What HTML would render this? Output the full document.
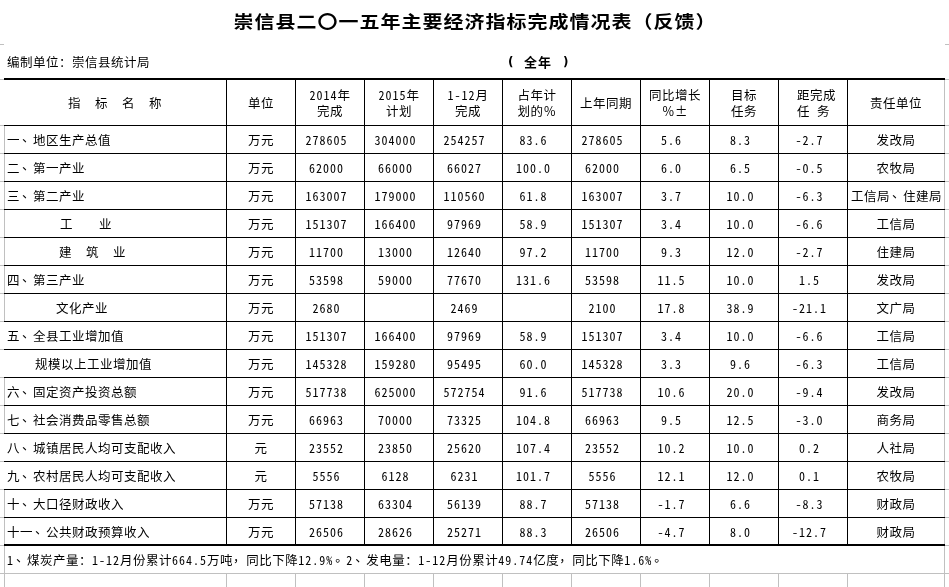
<!DOCTYPE html>
<html lang="zh-CN"><head><meta charset="utf-8"><title>崇信县二〇一五年主要经济指标完成情况表（反馈）</title>
<style>
*{margin:0;padding:0;box-sizing:border-box}
html,body{width:949px;height:587px;overflow:hidden;background:#fff}
body{position:relative;font-family:"Noto Sans CJK SC","Noto Sans Mono CJK SC",sans-serif;font-size:12.5px;letter-spacing:0.5px;color:#000}
i{position:absolute;display:block}
.h{font-size:12px;font-feature-settings:"hwid" 1;letter-spacing:1px;white-space:pre}
.p1{position:relative;left:2px;top:-3px}
.p2{position:relative;top:-3px}
.p3{position:relative;left:2px;top:-3px}
.t{position:absolute;display:flex;flex-direction:column;justify-content:center;white-space:nowrap}
.t.d{line-height:13px}
.t.hd1{line-height:13px}
.t.hd2{line-height:16px}
.title{position:absolute;left:0;top:9px;width:949px;text-align:center;font-family:"Noto Sans CJK SC",sans-serif;font-weight:bold;font-size:20px;letter-spacing:1px;text-indent:1px;transform:scaleY(0.88);transform-origin:50% 50%;line-height:24px;white-space:nowrap}
.sub{position:absolute;line-height:13px;white-space:nowrap}
.sub.b{font-weight:bold;font-size:13px}
</style></head>
<body>
<i style="left:0px;top:44px;width:4px;height:1px;background:#c0c0c0"></i>
<i style="left:945px;top:44px;width:4px;height:1px;background:#c0c0c0"></i>
<i style="left:0px;top:79px;width:4px;height:1px;background:#c0c0c0"></i>
<i style="left:945px;top:79px;width:4px;height:1px;background:#c0c0c0"></i>
<i style="left:0px;top:125px;width:4px;height:1px;background:#c0c0c0"></i>
<i style="left:945px;top:125px;width:4px;height:1px;background:#c0c0c0"></i>
<i style="left:0px;top:153px;width:4px;height:1px;background:#c0c0c0"></i>
<i style="left:945px;top:153px;width:4px;height:1px;background:#c0c0c0"></i>
<i style="left:0px;top:181px;width:4px;height:1px;background:#c0c0c0"></i>
<i style="left:945px;top:181px;width:4px;height:1px;background:#c0c0c0"></i>
<i style="left:0px;top:209px;width:4px;height:1px;background:#c0c0c0"></i>
<i style="left:945px;top:209px;width:4px;height:1px;background:#c0c0c0"></i>
<i style="left:0px;top:237px;width:4px;height:1px;background:#c0c0c0"></i>
<i style="left:945px;top:237px;width:4px;height:1px;background:#c0c0c0"></i>
<i style="left:0px;top:265px;width:4px;height:1px;background:#c0c0c0"></i>
<i style="left:945px;top:265px;width:4px;height:1px;background:#c0c0c0"></i>
<i style="left:0px;top:293px;width:4px;height:1px;background:#c0c0c0"></i>
<i style="left:945px;top:293px;width:4px;height:1px;background:#c0c0c0"></i>
<i style="left:0px;top:321px;width:4px;height:1px;background:#c0c0c0"></i>
<i style="left:945px;top:321px;width:4px;height:1px;background:#c0c0c0"></i>
<i style="left:0px;top:349px;width:4px;height:1px;background:#c0c0c0"></i>
<i style="left:945px;top:349px;width:4px;height:1px;background:#c0c0c0"></i>
<i style="left:0px;top:377px;width:4px;height:1px;background:#c0c0c0"></i>
<i style="left:945px;top:377px;width:4px;height:1px;background:#c0c0c0"></i>
<i style="left:0px;top:405px;width:4px;height:1px;background:#c0c0c0"></i>
<i style="left:945px;top:405px;width:4px;height:1px;background:#c0c0c0"></i>
<i style="left:0px;top:433px;width:4px;height:1px;background:#c0c0c0"></i>
<i style="left:945px;top:433px;width:4px;height:1px;background:#c0c0c0"></i>
<i style="left:0px;top:461px;width:4px;height:1px;background:#c0c0c0"></i>
<i style="left:945px;top:461px;width:4px;height:1px;background:#c0c0c0"></i>
<i style="left:0px;top:489px;width:4px;height:1px;background:#c0c0c0"></i>
<i style="left:945px;top:489px;width:4px;height:1px;background:#c0c0c0"></i>
<i style="left:0px;top:517px;width:4px;height:1px;background:#c0c0c0"></i>
<i style="left:945px;top:517px;width:4px;height:1px;background:#c0c0c0"></i>
<i style="left:0px;top:545px;width:4px;height:1px;background:#c0c0c0"></i>
<i style="left:945px;top:545px;width:4px;height:1px;background:#c0c0c0"></i>
<i style="left:0px;top:573px;width:4px;height:1px;background:#c0c0c0"></i>
<i style="left:945px;top:573px;width:4px;height:1px;background:#c0c0c0"></i>
<i style="left:4px;top:126px;width:1px;height:195px;background:#c0c0c0"></i>
<i style="left:4px;top:378px;width:1px;height:55px;background:#c0c0c0"></i>
<i style="left:4px;top:490px;width:1px;height:97px;background:#c0c0c0"></i>
<i style="left:944px;top:80px;width:1px;height:507px;background:#c0c0c0"></i>
<i style="left:4px;top:573px;width:941px;height:1px;background:#c0c0c0"></i>
<i style="left:226px;top:574px;width:1px;height:13px;background:#c0c0c0"></i>
<i style="left:295px;top:574px;width:1px;height:13px;background:#c0c0c0"></i>
<i style="left:364px;top:574px;width:1px;height:13px;background:#c0c0c0"></i>
<i style="left:433px;top:574px;width:1px;height:13px;background:#c0c0c0"></i>
<i style="left:502px;top:574px;width:1px;height:13px;background:#c0c0c0"></i>
<i style="left:571px;top:574px;width:1px;height:13px;background:#c0c0c0"></i>
<i style="left:640px;top:574px;width:1px;height:13px;background:#c0c0c0"></i>
<i style="left:709px;top:574px;width:1px;height:13px;background:#c0c0c0"></i>
<i style="left:778px;top:574px;width:1px;height:13px;background:#c0c0c0"></i>
<i style="left:847px;top:574px;width:1px;height:13px;background:#c0c0c0"></i>
<i style="left:4px;top:78px;width:941px;height:2px;background:#000"></i>
<i style="left:4px;top:125px;width:941px;height:1px;background:#000"></i>
<i style="left:4px;top:153px;width:941px;height:1px;background:#000"></i>
<i style="left:4px;top:181px;width:941px;height:1px;background:#000"></i>
<i style="left:4px;top:209px;width:941px;height:1px;background:#000"></i>
<i style="left:4px;top:237px;width:941px;height:1px;background:#000"></i>
<i style="left:4px;top:265px;width:941px;height:1px;background:#000"></i>
<i style="left:4px;top:293px;width:941px;height:1px;background:#000"></i>
<i style="left:4px;top:321px;width:941px;height:1px;background:#000"></i>
<i style="left:4px;top:349px;width:941px;height:1px;background:#000"></i>
<i style="left:4px;top:377px;width:941px;height:1px;background:#000"></i>
<i style="left:4px;top:405px;width:941px;height:1px;background:#000"></i>
<i style="left:4px;top:433px;width:941px;height:1px;background:#000"></i>
<i style="left:4px;top:461px;width:941px;height:1px;background:#000"></i>
<i style="left:4px;top:489px;width:941px;height:1px;background:#000"></i>
<i style="left:4px;top:517px;width:941px;height:1px;background:#000"></i>
<i style="left:4px;top:544px;width:941px;height:2px;background:#000"></i>
<i style="left:226px;top:80px;width:1px;height:464px;background:#000"></i>
<i style="left:295px;top:80px;width:1px;height:464px;background:#000"></i>
<i style="left:364px;top:80px;width:1px;height:464px;background:#000"></i>
<i style="left:433px;top:80px;width:1px;height:464px;background:#000"></i>
<i style="left:502px;top:80px;width:1px;height:464px;background:#000"></i>
<i style="left:571px;top:80px;width:1px;height:464px;background:#000"></i>
<i style="left:640px;top:80px;width:1px;height:464px;background:#000"></i>
<i style="left:709px;top:80px;width:1px;height:464px;background:#000"></i>
<i style="left:778px;top:80px;width:1px;height:464px;background:#000"></i>
<i style="left:847px;top:80px;width:1px;height:464px;background:#000"></i>
<div class="title">崇信县二〇一五年主要经济指标完成情况表（反馈）</div>
<div class="sub" style="left:7px;top:55px">编制单位：崇信县统计局</div>
<div class="sub b" style="left:508px;top:56px;font:bold 12px DejaVu Sans;line-height:13px">(</div><div class="sub b" style="left:524px;top:55px;letter-spacing:1px">全年</div><div class="sub b" style="left:563px;top:56px;font:bold 12px DejaVu Sans;line-height:13px">)</div>
<div class="t hd1" style="left:4px;top:80px;width:222px;height:45px;text-align:center;"><p>指<span class="h">&#32;&#32;</span>标<span class="h">&#32;&#32;</span>名<span class="h">&#32;&#32;</span>称</p></div>
<div class="t hd1" style="left:227px;top:80px;width:68px;height:45px;text-align:center;"><p>单位</p></div>
<div class="t hd2" style="left:296px;top:80px;width:68px;height:45px;text-align:center;"><p><div><span class="h">2014</span>年</div><div>完成</div></p></div>
<div class="t hd2" style="left:365px;top:80px;width:68px;height:45px;text-align:center;"><p><div><span class="h">2015</span>年</div><div>计划</div></p></div>
<div class="t hd2" style="left:434px;top:80px;width:68px;height:45px;text-align:center;"><p><div><span class="h">1-12</span>月</div><div>完成</div></p></div>
<div class="t hd2" style="left:503px;top:80px;width:68px;height:45px;text-align:center;"><p><div>占年计</div><div>划的％</div></p></div>
<div class="t hd1" style="left:572px;top:80px;width:68px;height:45px;text-align:center;"><p>上年同期</p></div>
<div class="t hd2" style="left:641px;top:80px;width:68px;height:45px;text-align:center;"><p><div>同比增长</div><div>％±</div></p></div>
<div class="t hd2" style="left:710px;top:80px;width:68px;height:45px;text-align:center;"><p><div>目标</div><div>任务</div></p></div>
<div class="t hd2" style="left:797px;top:80px;width:50px;height:45px;text-align:left;"><p><div>距完成</div><div>任<span class="h">&#32;</span>务</div></p></div>
<div class="t hd1" style="left:848px;top:80px;width:96px;height:45px;text-align:center;"><p>责任单位</p></div>
<div class="t d" style="left:7px;top:126px;width:215px;height:27px;text-align:left;"><p>一<span class="p1">、</span>地区生产总值</p></div>
<div class="t d" style="left:227px;top:126px;width:68px;height:27px;text-align:center;"><p>万元</p></div>
<div class="t d" style="left:296px;top:126px;width:61px;height:27px;text-align:center;"><p><span class="h">278605</span></p></div>
<div class="t d" style="left:365px;top:126px;width:61px;height:27px;text-align:center;"><p><span class="h">304000</span></p></div>
<div class="t d" style="left:434px;top:126px;width:61px;height:27px;text-align:center;"><p><span class="h">254257</span></p></div>
<div class="t d" style="left:503px;top:126px;width:61px;height:27px;text-align:center;"><p><span class="h">83.6</span></p></div>
<div class="t d" style="left:572px;top:126px;width:61px;height:27px;text-align:center;"><p><span class="h">278605</span></p></div>
<div class="t d" style="left:641px;top:126px;width:61px;height:27px;text-align:center;"><p><span class="h">5.6</span></p></div>
<div class="t d" style="left:710px;top:126px;width:61px;height:27px;text-align:center;"><p><span class="h">8.3</span></p></div>
<div class="t d" style="left:779px;top:126px;width:61px;height:27px;text-align:center;"><p><span class="h">-2.7</span></p></div>
<div class="t d" style="left:848px;top:126px;width:96px;height:27px;text-align:center;"><p>发改局</p></div>
<div class="t d" style="left:7px;top:154px;width:215px;height:27px;text-align:left;"><p>二<span class="p1">、</span>第一产业</p></div>
<div class="t d" style="left:227px;top:154px;width:68px;height:27px;text-align:center;"><p>万元</p></div>
<div class="t d" style="left:296px;top:154px;width:61px;height:27px;text-align:center;"><p><span class="h">62000</span></p></div>
<div class="t d" style="left:365px;top:154px;width:61px;height:27px;text-align:center;"><p><span class="h">66000</span></p></div>
<div class="t d" style="left:434px;top:154px;width:61px;height:27px;text-align:center;"><p><span class="h">66027</span></p></div>
<div class="t d" style="left:503px;top:154px;width:61px;height:27px;text-align:center;"><p><span class="h">100.0</span></p></div>
<div class="t d" style="left:572px;top:154px;width:61px;height:27px;text-align:center;"><p><span class="h">62000</span></p></div>
<div class="t d" style="left:641px;top:154px;width:61px;height:27px;text-align:center;"><p><span class="h">6.0</span></p></div>
<div class="t d" style="left:710px;top:154px;width:61px;height:27px;text-align:center;"><p><span class="h">6.5</span></p></div>
<div class="t d" style="left:779px;top:154px;width:61px;height:27px;text-align:center;"><p><span class="h">-0.5</span></p></div>
<div class="t d" style="left:848px;top:154px;width:96px;height:27px;text-align:center;"><p>农牧局</p></div>
<div class="t d" style="left:7px;top:182px;width:215px;height:27px;text-align:left;"><p>三<span class="p1">、</span>第二产业</p></div>
<div class="t d" style="left:227px;top:182px;width:68px;height:27px;text-align:center;"><p>万元</p></div>
<div class="t d" style="left:296px;top:182px;width:61px;height:27px;text-align:center;"><p><span class="h">163007</span></p></div>
<div class="t d" style="left:365px;top:182px;width:61px;height:27px;text-align:center;"><p><span class="h">179000</span></p></div>
<div class="t d" style="left:434px;top:182px;width:61px;height:27px;text-align:center;"><p><span class="h">110560</span></p></div>
<div class="t d" style="left:503px;top:182px;width:61px;height:27px;text-align:center;"><p><span class="h">61.8</span></p></div>
<div class="t d" style="left:572px;top:182px;width:61px;height:27px;text-align:center;"><p><span class="h">163007</span></p></div>
<div class="t d" style="left:641px;top:182px;width:61px;height:27px;text-align:center;"><p><span class="h">3.7</span></p></div>
<div class="t d" style="left:710px;top:182px;width:61px;height:27px;text-align:center;"><p><span class="h">10.0</span></p></div>
<div class="t d" style="left:779px;top:182px;width:61px;height:27px;text-align:center;"><p><span class="h">-6.3</span></p></div>
<div class="t d" style="left:848px;top:182px;width:97px;height:27px;text-align:center;white-space:nowrap"><p>工信局<span class="p1">、</span>住建局</p></div>
<div class="t d" style="left:60px;top:210px;width:163px;height:27px;text-align:left;"><p>工　　业</p></div>
<div class="t d" style="left:227px;top:210px;width:68px;height:27px;text-align:center;"><p>万元</p></div>
<div class="t d" style="left:296px;top:210px;width:61px;height:27px;text-align:center;"><p><span class="h">151307</span></p></div>
<div class="t d" style="left:365px;top:210px;width:61px;height:27px;text-align:center;"><p><span class="h">166400</span></p></div>
<div class="t d" style="left:434px;top:210px;width:61px;height:27px;text-align:center;"><p><span class="h">97969</span></p></div>
<div class="t d" style="left:503px;top:210px;width:61px;height:27px;text-align:center;"><p><span class="h">58.9</span></p></div>
<div class="t d" style="left:572px;top:210px;width:61px;height:27px;text-align:center;"><p><span class="h">151307</span></p></div>
<div class="t d" style="left:641px;top:210px;width:61px;height:27px;text-align:center;"><p><span class="h">3.4</span></p></div>
<div class="t d" style="left:710px;top:210px;width:61px;height:27px;text-align:center;"><p><span class="h">10.0</span></p></div>
<div class="t d" style="left:779px;top:210px;width:61px;height:27px;text-align:center;"><p><span class="h">-6.6</span></p></div>
<div class="t d" style="left:848px;top:210px;width:96px;height:27px;text-align:center;"><p>工信局</p></div>
<div class="t d" style="left:59px;top:238px;width:164px;height:27px;text-align:left;"><p>建<span class="h">&#32;&#32;</span>筑<span class="h">&#32;&#32;</span>业</p></div>
<div class="t d" style="left:227px;top:238px;width:68px;height:27px;text-align:center;"><p>万元</p></div>
<div class="t d" style="left:296px;top:238px;width:61px;height:27px;text-align:center;"><p><span class="h">11700</span></p></div>
<div class="t d" style="left:365px;top:238px;width:61px;height:27px;text-align:center;"><p><span class="h">13000</span></p></div>
<div class="t d" style="left:434px;top:238px;width:61px;height:27px;text-align:center;"><p><span class="h">12640</span></p></div>
<div class="t d" style="left:503px;top:238px;width:61px;height:27px;text-align:center;"><p><span class="h">97.2</span></p></div>
<div class="t d" style="left:572px;top:238px;width:61px;height:27px;text-align:center;"><p><span class="h">11700</span></p></div>
<div class="t d" style="left:641px;top:238px;width:61px;height:27px;text-align:center;"><p><span class="h">9.3</span></p></div>
<div class="t d" style="left:710px;top:238px;width:61px;height:27px;text-align:center;"><p><span class="h">12.0</span></p></div>
<div class="t d" style="left:779px;top:238px;width:61px;height:27px;text-align:center;"><p><span class="h">-2.7</span></p></div>
<div class="t d" style="left:848px;top:238px;width:96px;height:27px;text-align:center;"><p>住建局</p></div>
<div class="t d" style="left:7px;top:266px;width:215px;height:27px;text-align:left;"><p>四<span class="p1">、</span>第三产业</p></div>
<div class="t d" style="left:227px;top:266px;width:68px;height:27px;text-align:center;"><p>万元</p></div>
<div class="t d" style="left:296px;top:266px;width:61px;height:27px;text-align:center;"><p><span class="h">53598</span></p></div>
<div class="t d" style="left:365px;top:266px;width:61px;height:27px;text-align:center;"><p><span class="h">59000</span></p></div>
<div class="t d" style="left:434px;top:266px;width:61px;height:27px;text-align:center;"><p><span class="h">77670</span></p></div>
<div class="t d" style="left:503px;top:266px;width:61px;height:27px;text-align:center;"><p><span class="h">131.6</span></p></div>
<div class="t d" style="left:572px;top:266px;width:61px;height:27px;text-align:center;"><p><span class="h">53598</span></p></div>
<div class="t d" style="left:641px;top:266px;width:61px;height:27px;text-align:center;"><p><span class="h">11.5</span></p></div>
<div class="t d" style="left:710px;top:266px;width:61px;height:27px;text-align:center;"><p><span class="h">10.0</span></p></div>
<div class="t d" style="left:779px;top:266px;width:61px;height:27px;text-align:center;"><p><span class="h">1.5</span></p></div>
<div class="t d" style="left:848px;top:266px;width:96px;height:27px;text-align:center;"><p>发改局</p></div>
<div class="t d" style="left:56px;top:294px;width:167px;height:27px;text-align:left;"><p>文化产业</p></div>
<div class="t d" style="left:227px;top:294px;width:68px;height:27px;text-align:center;"><p>万元</p></div>
<div class="t d" style="left:296px;top:294px;width:61px;height:27px;text-align:center;"><p><span class="h">2680</span></p></div>
<div class="t d" style="left:434px;top:294px;width:61px;height:27px;text-align:center;"><p><span class="h">2469</span></p></div>
<div class="t d" style="left:572px;top:294px;width:61px;height:27px;text-align:center;"><p><span class="h">2100</span></p></div>
<div class="t d" style="left:641px;top:294px;width:61px;height:27px;text-align:center;"><p><span class="h">17.8</span></p></div>
<div class="t d" style="left:710px;top:294px;width:61px;height:27px;text-align:center;"><p><span class="h">38.9</span></p></div>
<div class="t d" style="left:779px;top:294px;width:61px;height:27px;text-align:center;"><p><span class="h">-21.1</span></p></div>
<div class="t d" style="left:848px;top:294px;width:96px;height:27px;text-align:center;"><p>文广局</p></div>
<div class="t d" style="left:7px;top:322px;width:215px;height:27px;text-align:left;"><p>五<span class="p1">、</span>全县工业增加值</p></div>
<div class="t d" style="left:227px;top:322px;width:68px;height:27px;text-align:center;"><p>万元</p></div>
<div class="t d" style="left:296px;top:322px;width:61px;height:27px;text-align:center;"><p><span class="h">151307</span></p></div>
<div class="t d" style="left:365px;top:322px;width:61px;height:27px;text-align:center;"><p><span class="h">166400</span></p></div>
<div class="t d" style="left:434px;top:322px;width:61px;height:27px;text-align:center;"><p><span class="h">97969</span></p></div>
<div class="t d" style="left:503px;top:322px;width:61px;height:27px;text-align:center;"><p><span class="h">58.9</span></p></div>
<div class="t d" style="left:572px;top:322px;width:61px;height:27px;text-align:center;"><p><span class="h">151307</span></p></div>
<div class="t d" style="left:641px;top:322px;width:61px;height:27px;text-align:center;"><p><span class="h">3.4</span></p></div>
<div class="t d" style="left:710px;top:322px;width:61px;height:27px;text-align:center;"><p><span class="h">10.0</span></p></div>
<div class="t d" style="left:779px;top:322px;width:61px;height:27px;text-align:center;"><p><span class="h">-6.6</span></p></div>
<div class="t d" style="left:848px;top:322px;width:96px;height:27px;text-align:center;"><p>工信局</p></div>
<div class="t d" style="left:35px;top:350px;width:188px;height:27px;text-align:left;"><p>规模以上工业增加值</p></div>
<div class="t d" style="left:227px;top:350px;width:68px;height:27px;text-align:center;"><p>万元</p></div>
<div class="t d" style="left:296px;top:350px;width:61px;height:27px;text-align:center;"><p><span class="h">145328</span></p></div>
<div class="t d" style="left:365px;top:350px;width:61px;height:27px;text-align:center;"><p><span class="h">159280</span></p></div>
<div class="t d" style="left:434px;top:350px;width:61px;height:27px;text-align:center;"><p><span class="h">95495</span></p></div>
<div class="t d" style="left:503px;top:350px;width:61px;height:27px;text-align:center;"><p><span class="h">60.0</span></p></div>
<div class="t d" style="left:572px;top:350px;width:61px;height:27px;text-align:center;"><p><span class="h">145328</span></p></div>
<div class="t d" style="left:641px;top:350px;width:61px;height:27px;text-align:center;"><p><span class="h">3.3</span></p></div>
<div class="t d" style="left:710px;top:350px;width:61px;height:27px;text-align:center;"><p><span class="h">9.6</span></p></div>
<div class="t d" style="left:779px;top:350px;width:61px;height:27px;text-align:center;"><p><span class="h">-6.3</span></p></div>
<div class="t d" style="left:848px;top:350px;width:96px;height:27px;text-align:center;"><p>工信局</p></div>
<div class="t d" style="left:7px;top:378px;width:215px;height:27px;text-align:left;"><p>六<span class="p1">、</span>固定资产投资总额</p></div>
<div class="t d" style="left:227px;top:378px;width:68px;height:27px;text-align:center;"><p>万元</p></div>
<div class="t d" style="left:296px;top:378px;width:61px;height:27px;text-align:center;"><p><span class="h">517738</span></p></div>
<div class="t d" style="left:365px;top:378px;width:61px;height:27px;text-align:center;"><p><span class="h">625000</span></p></div>
<div class="t d" style="left:434px;top:378px;width:61px;height:27px;text-align:center;"><p><span class="h">572754</span></p></div>
<div class="t d" style="left:503px;top:378px;width:61px;height:27px;text-align:center;"><p><span class="h">91.6</span></p></div>
<div class="t d" style="left:572px;top:378px;width:61px;height:27px;text-align:center;"><p><span class="h">517738</span></p></div>
<div class="t d" style="left:641px;top:378px;width:61px;height:27px;text-align:center;"><p><span class="h">10.6</span></p></div>
<div class="t d" style="left:710px;top:378px;width:61px;height:27px;text-align:center;"><p><span class="h">20.0</span></p></div>
<div class="t d" style="left:779px;top:378px;width:61px;height:27px;text-align:center;"><p><span class="h">-9.4</span></p></div>
<div class="t d" style="left:848px;top:378px;width:96px;height:27px;text-align:center;"><p>发改局</p></div>
<div class="t d" style="left:7px;top:406px;width:215px;height:27px;text-align:left;"><p>七<span class="p1">、</span>社会消费品零售总额</p></div>
<div class="t d" style="left:227px;top:406px;width:68px;height:27px;text-align:center;"><p>万元</p></div>
<div class="t d" style="left:296px;top:406px;width:61px;height:27px;text-align:center;"><p><span class="h">66963</span></p></div>
<div class="t d" style="left:365px;top:406px;width:61px;height:27px;text-align:center;"><p><span class="h">70000</span></p></div>
<div class="t d" style="left:434px;top:406px;width:61px;height:27px;text-align:center;"><p><span class="h">73325</span></p></div>
<div class="t d" style="left:503px;top:406px;width:61px;height:27px;text-align:center;"><p><span class="h">104.8</span></p></div>
<div class="t d" style="left:572px;top:406px;width:61px;height:27px;text-align:center;"><p><span class="h">66963</span></p></div>
<div class="t d" style="left:641px;top:406px;width:61px;height:27px;text-align:center;"><p><span class="h">9.5</span></p></div>
<div class="t d" style="left:710px;top:406px;width:61px;height:27px;text-align:center;"><p><span class="h">12.5</span></p></div>
<div class="t d" style="left:779px;top:406px;width:61px;height:27px;text-align:center;"><p><span class="h">-3.0</span></p></div>
<div class="t d" style="left:848px;top:406px;width:96px;height:27px;text-align:center;"><p>商务局</p></div>
<div class="t d" style="left:7px;top:434px;width:215px;height:27px;text-align:left;"><p>八<span class="p1">、</span>城镇居民人均可支配收入</p></div>
<div class="t d" style="left:227px;top:434px;width:68px;height:27px;text-align:center;"><p>元</p></div>
<div class="t d" style="left:296px;top:434px;width:61px;height:27px;text-align:center;"><p><span class="h">23552</span></p></div>
<div class="t d" style="left:365px;top:434px;width:61px;height:27px;text-align:center;"><p><span class="h">23850</span></p></div>
<div class="t d" style="left:434px;top:434px;width:61px;height:27px;text-align:center;"><p><span class="h">25620</span></p></div>
<div class="t d" style="left:503px;top:434px;width:61px;height:27px;text-align:center;"><p><span class="h">107.4</span></p></div>
<div class="t d" style="left:572px;top:434px;width:61px;height:27px;text-align:center;"><p><span class="h">23552</span></p></div>
<div class="t d" style="left:641px;top:434px;width:61px;height:27px;text-align:center;"><p><span class="h">10.2</span></p></div>
<div class="t d" style="left:710px;top:434px;width:61px;height:27px;text-align:center;"><p><span class="h">10.0</span></p></div>
<div class="t d" style="left:779px;top:434px;width:61px;height:27px;text-align:center;"><p><span class="h">0.2</span></p></div>
<div class="t d" style="left:848px;top:434px;width:96px;height:27px;text-align:center;"><p>人社局</p></div>
<div class="t d" style="left:7px;top:462px;width:215px;height:27px;text-align:left;"><p>九<span class="p1">、</span>农村居民人均可支配收入</p></div>
<div class="t d" style="left:227px;top:462px;width:68px;height:27px;text-align:center;"><p>元</p></div>
<div class="t d" style="left:296px;top:462px;width:61px;height:27px;text-align:center;"><p><span class="h">5556</span></p></div>
<div class="t d" style="left:365px;top:462px;width:61px;height:27px;text-align:center;"><p><span class="h">6128</span></p></div>
<div class="t d" style="left:434px;top:462px;width:61px;height:27px;text-align:center;"><p><span class="h">6231</span></p></div>
<div class="t d" style="left:503px;top:462px;width:61px;height:27px;text-align:center;"><p><span class="h">101.7</span></p></div>
<div class="t d" style="left:572px;top:462px;width:61px;height:27px;text-align:center;"><p><span class="h">5556</span></p></div>
<div class="t d" style="left:641px;top:462px;width:61px;height:27px;text-align:center;"><p><span class="h">12.1</span></p></div>
<div class="t d" style="left:710px;top:462px;width:61px;height:27px;text-align:center;"><p><span class="h">12.0</span></p></div>
<div class="t d" style="left:779px;top:462px;width:61px;height:27px;text-align:center;"><p><span class="h">0.1</span></p></div>
<div class="t d" style="left:848px;top:462px;width:96px;height:27px;text-align:center;"><p>农牧局</p></div>
<div class="t d" style="left:7px;top:490px;width:215px;height:27px;text-align:left;"><p>十<span class="p1">、</span>大口径财政收入</p></div>
<div class="t d" style="left:227px;top:490px;width:68px;height:27px;text-align:center;"><p>万元</p></div>
<div class="t d" style="left:296px;top:490px;width:61px;height:27px;text-align:center;"><p><span class="h">57138</span></p></div>
<div class="t d" style="left:365px;top:490px;width:61px;height:27px;text-align:center;"><p><span class="h">63304</span></p></div>
<div class="t d" style="left:434px;top:490px;width:61px;height:27px;text-align:center;"><p><span class="h">56139</span></p></div>
<div class="t d" style="left:503px;top:490px;width:61px;height:27px;text-align:center;"><p><span class="h">88.7</span></p></div>
<div class="t d" style="left:572px;top:490px;width:61px;height:27px;text-align:center;"><p><span class="h">57138</span></p></div>
<div class="t d" style="left:641px;top:490px;width:61px;height:27px;text-align:center;"><p><span class="h">-1.7</span></p></div>
<div class="t d" style="left:710px;top:490px;width:61px;height:27px;text-align:center;"><p><span class="h">6.6</span></p></div>
<div class="t d" style="left:779px;top:490px;width:61px;height:27px;text-align:center;"><p><span class="h">-8.3</span></p></div>
<div class="t d" style="left:848px;top:490px;width:96px;height:27px;text-align:center;"><p>财政局</p></div>
<div class="t d" style="left:7px;top:518px;width:215px;height:27px;text-align:left;"><p>十一<span class="p1">、</span>公共财政预算收入</p></div>
<div class="t d" style="left:227px;top:518px;width:68px;height:27px;text-align:center;"><p>万元</p></div>
<div class="t d" style="left:296px;top:518px;width:61px;height:27px;text-align:center;"><p><span class="h">26506</span></p></div>
<div class="t d" style="left:365px;top:518px;width:61px;height:27px;text-align:center;"><p><span class="h">28626</span></p></div>
<div class="t d" style="left:434px;top:518px;width:61px;height:27px;text-align:center;"><p><span class="h">25271</span></p></div>
<div class="t d" style="left:503px;top:518px;width:61px;height:27px;text-align:center;"><p><span class="h">88.3</span></p></div>
<div class="t d" style="left:572px;top:518px;width:61px;height:27px;text-align:center;"><p><span class="h">26506</span></p></div>
<div class="t d" style="left:641px;top:518px;width:61px;height:27px;text-align:center;"><p><span class="h">-4.7</span></p></div>
<div class="t d" style="left:710px;top:518px;width:61px;height:27px;text-align:center;"><p><span class="h">8.0</span></p></div>
<div class="t d" style="left:779px;top:518px;width:61px;height:27px;text-align:center;"><p><span class="h">-12.7</span></p></div>
<div class="t d" style="left:848px;top:518px;width:96px;height:27px;text-align:center;"><p>财政局</p></div>
<div class="t d" style="left:7px;top:546px;width:900px;height:27px;text-align:left;white-space:nowrap"><p><span class="h">1</span><span class="p1">、</span>煤炭产量：<span class="h">1-12</span>月份累计<span class="h">664.5</span>万吨<span class="p2">，</span>同比下降<span class="h">12.9%</span><span class="p3">。</span><span class="h">2</span><span class="p1">、</span>发电量：<span class="h">1-12</span>月份累计<span class="h">49.74</span>亿度<span class="p2">，</span>同比下降<span class="h">1.6%</span><span class="p3">。</span></p></div>
</body></html>
